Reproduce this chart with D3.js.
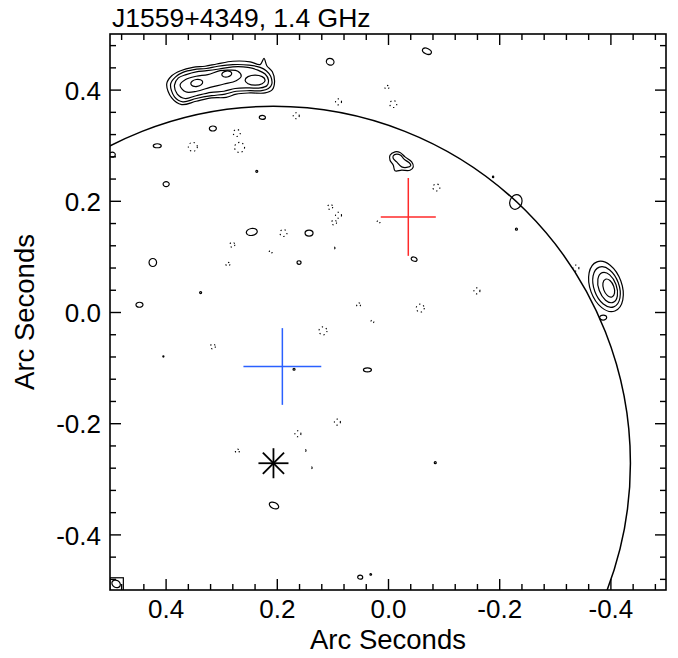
<!DOCTYPE html>
<html><head><meta charset="utf-8">
<script src="https://cdn.jsdelivr.net/npm/d3@7"></script>
<style>
html,body{margin:0;padding:0;background:#fff;}
svg{display:block;font-family:"Liberation Sans",Arial,Helvetica,sans-serif;}
</style></head>
<body>
<svg id="chart" width="678" height="658"></svg>
<script>
// ---------------- DATA (arc seconds) ----------------
const titleText = "J1559+4349, 1.4 GHz";
const xTitle = "Arc Seconds", yTitle = "Arc Seconds";
const xDomain = [0.5, -0.5], yDomain = [-0.5, 0.5];
const majorTicks = [0.4, 0.2, 0.0, -0.2, -0.4];
const majorLabels = ["0.4", "0.2", "0.0", "-0.2", "-0.4"];
const minorTicks = [0.48,0.44,0.36,0.32,0.28,0.24,0.16,0.12,0.08,0.04,-0.04,-0.08,-0.12,-0.16,-0.24,-0.28,-0.32,-0.36,-0.44,-0.48];

// large northern source: nested contour rings [x, y]
const bigSourceRings = [
  [[0.398,0.410],[0.389,0.425],[0.373,0.434],[0.351,0.440],[0.329,0.442],[0.308,0.446],[0.279,0.451],[0.248,0.450],[0.230,0.445],[0.223,0.456],[0.218,0.443],[0.208,0.432],[0.204,0.415],[0.208,0.400],[0.221,0.394],[0.248,0.394],[0.273,0.392],[0.291,0.386],[0.317,0.385],[0.345,0.379],[0.371,0.373],[0.389,0.385]],
  [[0.391,0.410],[0.382,0.423],[0.369,0.431],[0.349,0.436],[0.327,0.438],[0.306,0.442],[0.279,0.445],[0.250,0.444],[0.230,0.440],[0.219,0.434],[0.211,0.424],[0.209,0.410],[0.215,0.402],[0.227,0.398],[0.248,0.398],[0.273,0.397],[0.293,0.392],[0.317,0.389],[0.345,0.384],[0.369,0.378],[0.384,0.387]],
  [[0.384,0.408],[0.377,0.421],[0.363,0.427],[0.345,0.432],[0.326,0.434],[0.304,0.437],[0.279,0.441],[0.252,0.440],[0.234,0.435],[0.221,0.428],[0.215,0.417],[0.218,0.407],[0.230,0.403],[0.250,0.403],[0.275,0.402],[0.295,0.397],[0.318,0.395],[0.345,0.389],[0.365,0.384],[0.379,0.392]],
  [[0.374,0.408],[0.364,0.418],[0.345,0.424],[0.324,0.427],[0.302,0.434],[0.284,0.435],[0.270,0.433],[0.264,0.424],[0.273,0.416],[0.295,0.410],[0.320,0.404],[0.344,0.397],[0.364,0.396]]
];
// smaller source north of the red cross
const smallSourceRings = [
  [[-0.0036,0.282],[-0.0126,0.288],[-0.0216,0.287],[-0.0306,0.279],[-0.0426,0.270],[-0.0455,0.261],[-0.0396,0.255],[-0.0246,0.255],[-0.0126,0.254],[-0.0095,0.264],[-0.0036,0.273]],
  [[-0.0095,0.281],[-0.0156,0.284],[-0.0228,0.282],[-0.0288,0.275],[-0.0396,0.267],[-0.0408,0.263],[-0.0336,0.260],[-0.0246,0.261],[-0.0156,0.270],[-0.0095,0.276]]
];
// elliptical positive contours: x, y, rx, ry, rotation(deg)
const peakContours = [
  {x:0.344,y:0.412,rx:0.0108,ry:0.0063,rot:-10},
  {x:0.290,y:0.428,rx:0.0090,ry:0.0054,rot:-10},
  {x:0.239,y:0.417,rx:0.0180,ry:0.0090,rot:0},
  {x:-0.392,y:0.046,rx:0.0285,ry:0.0470,rot:-20},
  {x:-0.393,y:0.045,rx:0.0225,ry:0.0380,rot:-20},
  {x:-0.395,y:0.044,rx:0.0160,ry:0.0285,rot:-20},
  {x:-0.397,y:0.043,rx:0.0095,ry:0.0170,rot:-20}
];
const positiveBlobs = [
  {x:-0.070,y:0.469,rx:0.0085,ry:0.0050,rot:25},
  {x:0.104,y:0.450,rx:0.0070,ry:0.0060,rot:20},
  {x:0.226,y:0.350,rx:0.0055,ry:0.0036,rot:0},
  {x:0.315,y:0.330,rx:0.0063,ry:0.0045,rot:0},
  {x:0.415,y:0.299,rx:0.0072,ry:0.0036,rot:0},
  {x:0.496,y:0.283,rx:0.0055,ry:0.0045,rot:0},
  {x:0.399,y:0.230,rx:0.0055,ry:0.0045,rot:0},
  {x:0.236,y:0.253,rx:0.0018,ry:0.0018,rot:0},
  {x:0.245,y:0.144,rx:0.0099,ry:0.0063,rot:-10},
  {x:0.142,y:0.142,rx:0.0072,ry:0.0054,rot:0},
  {x:0.423,y:0.089,rx:0.0068,ry:0.0072,rot:0},
  {x:0.160,y:0.089,rx:0.0036,ry:0.0032,rot:0},
  {x:-0.047,y:0.095,rx:0.0055,ry:0.0036,rot:20},
  {x:0.447,y:0.013,rx:0.0063,ry:0.0045,rot:0},
  {x:0.337,y:0.035,rx:0.0018,ry:0.0018,rot:0},
  {x:0.037,y:-0.104,rx:0.0072,ry:0.0036,rot:0},
  {x:0.169,y:-0.103,rx:0.0018,ry:0.0018,rot:0},
  {x:0.404,y:-0.080,rx:0.0010,ry:0.0010,rot:0},
  {x:-0.230,y:0.198,rx:0.0108,ry:0.0135,rot:20},
  {x:-0.189,y:0.243,rx:0.0012,ry:0.0012,rot:0},
  {x:-0.231,y:0.149,rx:0.0018,ry:0.0018,rot:0},
  {x:-0.387,y:-0.010,rx:0.0063,ry:0.0045,rot:0},
  {x:0.205,y:-0.348,rx:0.0090,ry:0.0054,rot:25},
  {x:0.050,y:-0.477,rx:0.0045,ry:0.0036,rot:0},
  {x:0.031,y:-0.472,rx:0.0015,ry:0.0015,rot:0},
  {x:-0.085,y:-0.271,rx:0.0018,ry:0.0018,rot:0}
];
// dashed negative contours: x, y, r
const negativeBlobs = [
  {x:0.002,y:0.404,r:0.0036},{x:0.089,y:0.378,r:0.0054},{x:-0.0095,y:0.374,r:0.0063},
  {x:0.165,y:0.353,r:0.0054},{x:0.272,y:0.322,r:0.0063},{x:0.351,y:0.297,r:0.0081},
  {x:0.267,y:0.296,r:0.0090},{x:0.104,y:0.189,r:0.0045},{x:0.089,y:0.174,r:0.0054},
  {x:0.097,y:0.161,r:0.0045},{x:0.017,y:0.162,r:0.0027},{x:-0.087,y:0.224,r:0.0063},
  {x:0.188,y:0.142,r:0.0063},{x:0.280,y:0.121,r:0.0045},{x:0.211,y:0.108,r:0.0027},
  {x:0.288,y:0.086,r:0.0036},{x:0.097,y:0.115,r:0.0018},{x:0.053,y:0.013,r:0.0036},
  {x:0.028,y:-0.017,r:0.0027},{x:0.117,y:-0.034,r:0.0072},{x:0.315,y:-0.062,r:0.0045},
  {x:-0.160,y:0.038,r:0.0054},{x:-0.058,y:0.007,r:0.0072},{x:-0.338,y:0.079,r:0.0054},
  {x:0.091,y:-0.198,r:0.0054},{x:0.162,y:-0.219,r:0.0054},{x:0.271,y:-0.250,r:0.0036},
  {x:0.149,y:-0.249,r:0.0018},{x:0.138,y:-0.280,r:0.0018}
];
// position markers
const redCross = {x:-0.0365, y:0.171, ex:0.0495, ey:0.070};
const blueCross = {x:0.190, y:-0.098, ex:0.070, ey:0.069};
const starPos = {x:0.206, y:-0.272, arm:0.027};
const circleRadius = 0.642;
const beam = {x:0.489, y:-0.489, rx:0.0080, ry:0.0063, rot:30, box:0.024};

// ---------------- DRAW ----------------
const svg = d3.select("#chart");
const L = 110, R = 666, T = 34, B = 590;
const xs = d3.scaleLinear().domain(xDomain).range([L, R]);
const ys = d3.scaleLinear().domain(yDomain).range([B, T]);
const sx = v => Math.abs(xs(v) - xs(0));
const sy = v => Math.abs(ys(v) - ys(0));

svg.append("defs").append("clipPath").attr("id","clip")
  .append("rect").attr("x",L).attr("y",T).attr("width",R-L).attr("height",B-T);
const plot = svg.append("g").attr("clip-path","url(#clip)");

const ringLine = d3.line().x(d=>xs(d[0])).y(d=>ys(d[1])).curve(d3.curveCatmullRomClosed.alpha(0.5));
const cStroke = "#000", cW = 1.2;

plot.selectAll(".big").data(bigSourceRings).join("path")
  .attr("d", ringLine).attr("fill","none").attr("stroke",cStroke).attr("stroke-width",cW);
plot.selectAll(".small").data(smallSourceRings).join("path")
  .attr("d", ringLine).attr("fill","none").attr("stroke",cStroke).attr("stroke-width",cW);

function ellipses(data, cls){
  plot.selectAll("."+cls).data(data).join("ellipse").attr("class",cls)
    .attr("cx",0).attr("cy",0)
    .attr("rx",d=>sx(d.rx)).attr("ry",d=>sy(d.ry))
    .attr("transform",d=>`translate(${xs(d.x)},${ys(d.y)}) rotate(${d.rot})`)
    .attr("fill","none").attr("stroke",cStroke).attr("stroke-width",cW);
}
ellipses(peakContours,"peak");
ellipses(positiveBlobs,"pos");

plot.selectAll(".neg").data(negativeBlobs).join("circle").attr("class","neg")
  .attr("cx",d=>xs(d.x)).attr("cy",d=>ys(d.y)).attr("r",d=>sx(d.r))
  .attr("fill","none").attr("stroke","#000").attr("stroke-width",1.1)
  .attr("stroke-dasharray","1.3,3");

// big circle around star
plot.append("circle").attr("cx",xs(starPos.x)).attr("cy",ys(starPos.y))
  .attr("r",sx(circleRadius)).attr("fill","none").attr("stroke","#000").attr("stroke-width",1.5);

// crosses
function cross(c,color){
  plot.append("line").attr("x1",xs(c.x-c.ex)).attr("x2",xs(c.x+c.ex))
    .attr("y1",ys(c.y)).attr("y2",ys(c.y)).attr("stroke",color).attr("stroke-width",1.5);
  plot.append("line").attr("x1",xs(c.x)).attr("x2",xs(c.x))
    .attr("y1",ys(c.y-c.ey)).attr("y2",ys(c.y+c.ey)).attr("stroke",color).attr("stroke-width",1.5);
}
cross(redCross,"#ff2a2a");
cross(blueCross,"#2a60ff");

// star (asterisk)
const sa = starPos.arm;
[[sa,0],[0,sa],[sa*0.707,sa*0.707],[sa*0.707,-sa*0.707]].forEach(([dx,dy])=>{
  plot.append("line").attr("x1",xs(starPos.x-dx)).attr("x2",xs(starPos.x+dx))
    .attr("y1",ys(starPos.y-dy)).attr("y2",ys(starPos.y+dy))
    .attr("stroke","#000").attr("stroke-width",1.8);
});

// beam
plot.append("rect").attr("x",xs(beam.x+0.011)).attr("y",ys(beam.y+0.011))
  .attr("width",sx(beam.box)).attr("height",sy(beam.box))
  .attr("fill","none").attr("stroke","#000").attr("stroke-width",1.2);
plot.append("ellipse").attr("cx",0).attr("cy",0)
  .attr("rx",sx(beam.rx)).attr("ry",sy(beam.ry))
  .attr("transform",`translate(${xs(beam.x)},${ys(beam.y)}) rotate(${beam.rot})`)
  .attr("fill","none").attr("stroke","#000").attr("stroke-width",1.2);

// axes (ticks inward on all sides)
const fs = 26;
function styleAxis(g){ g.select(".domain").remove(); g.selectAll(".tick line").attr("stroke","#000").attr("stroke-width",1.4); }
const ax = (fn, scale, ticks, size, lab) => {
  const a = fn(scale).tickValues(ticks).tickSize(size).tickSizeOuter(0);
  if (lab) a.tickFormat((d,i)=>majorLabels[i]); else a.tickFormat("");
  return a;
};
const gB = svg.append("g").attr("transform",`translate(0,${B})`).call(ax(d3.axisBottom,xs,majorTicks,-11,true)).call(styleAxis);
gB.selectAll("text").attr("y",28).attr("dy",null).attr("font-size",fs).attr("fill","#000").attr("font-family","Liberation Sans, Arial, sans-serif");
svg.append("g").attr("transform",`translate(0,${B})`).call(ax(d3.axisBottom,xs,minorTicks,-6,false)).call(styleAxis);
svg.append("g").attr("transform",`translate(0,${T})`).call(ax(d3.axisTop,xs,majorTicks,-11,false)).call(styleAxis);
svg.append("g").attr("transform",`translate(0,${T})`).call(ax(d3.axisTop,xs,minorTicks,-6,false)).call(styleAxis);
const gL = svg.append("g").attr("transform",`translate(${L},0)`).call(ax(d3.axisLeft,ys,majorTicks,-11,true)).call(styleAxis);
gL.selectAll("text").attr("x",-9).attr("dy","0.37em").attr("font-size",fs).attr("fill","#000").attr("font-family","Liberation Sans, Arial, sans-serif");
svg.append("g").attr("transform",`translate(${L},0)`).call(ax(d3.axisLeft,ys,minorTicks,-6,false)).call(styleAxis);
svg.append("g").attr("transform",`translate(${R},0)`).call(ax(d3.axisRight,ys,majorTicks,-11,false)).call(styleAxis);
svg.append("g").attr("transform",`translate(${R},0)`).call(ax(d3.axisRight,ys,minorTicks,-6,false)).call(styleAxis);

svg.append("rect").attr("x",L).attr("y",T).attr("width",R-L).attr("height",B-T)
  .attr("fill","none").attr("stroke","#000").attr("stroke-width",1.6);

// titles
svg.append("text").attr("x",L+2).attr("y",27).attr("font-size",26.5).attr("fill","#000").text(titleText);
svg.append("text").attr("x",(L+R)/2).attr("y",649).attr("text-anchor","middle").attr("font-size",27.5).attr("fill","#000").text(xTitle);
svg.append("text").attr("transform",`translate(34,${(T+B)/2}) rotate(-90)`).attr("text-anchor","middle").attr("font-size",27.5).attr("fill","#000").text(yTitle);
</script>
</body></html>
